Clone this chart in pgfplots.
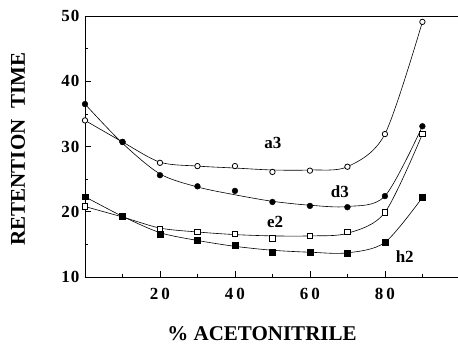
\documentclass[border=0pt]{standalone}
\usepackage{pgfplots}
\pgfplotsset{compat=1.18}
\usepackage{fontspec}
\setmainfont{Liberation Serif}
\begin{document}
\begin{tikzpicture}[x=1pt,y=1pt]
\useasboundingbox (-85,-69) rectangle (373,277);
\begin{axis}[
  at={(0,0)}, anchor=south west,
  scale only axis, width=373pt, height=261pt,
  xmin=0, xmax=99.5, ymin=10, ymax=50,
  axis y line*=left, axis x line*=box,
  axis line style={line width=0.8pt,-},
  xtick={20,40,60,80}, minor xtick={10,30,50,70,90},
  xticklabels={{2\hspace{3pt}0},{4\hspace{3pt}0},{6\hspace{3pt}0},{8\hspace{3pt}0}},
  ytick={10,20,30,40,50}, minor ytick={15,25,35,45},
  yticklabels={{1\hspace{1pt}0},{2\hspace{1pt}0},{3\hspace{1pt}0},{4\hspace{1pt}0},{5\hspace{1pt}0}},
  xtick pos=lower, ytick pos=left,
  tick align=inside,
  major tick length=6pt, minor tick length=3pt,
  tick style={black, line width=0.6pt},
  ticklabel style={font=\bfseries\fontsize{17}{17}\selectfont},
  xticklabel style={yshift=-8pt},
  yticklabel style={xshift=-2pt},
  xlabel={\% ACETONITRILE},
  ylabel={RETENTION\ \ TIME},
  label style={font=\bfseries\fontsize{21}{21}\selectfont},
  xlabel style={at={(axis description cs:0.4745,-0.216)}, anchor=center},
  ylabel style={at={(axis description cs:-0.1796,0.49)}, anchor=center, rotate=0},
  clip=false,
]
% fitted curves
\addplot[black, line width=0.6pt, smooth, tension=0.5, no marks] coordinates {
(0,34.0)(10,30.7)(20,27.6)(30,27.0)(40,26.7)(50,26.4)(60,26.4)(70,26.9)(80,31.9)(90,49.1)};
\addplot[black, line width=0.6pt, smooth, tension=0.5, no marks] coordinates {
(0,36.5)(10,30.5)(20,25.8)(30,23.8)(40,22.6)(50,21.6)(60,21.0)(70,20.8)(80,22.4)(90,33.1)};
\addplot[black, line width=0.6pt, smooth, tension=0.5, no marks] coordinates {
(0,20.8)(10,19.2)(20,17.5)(30,16.9)(40,16.5)(50,16.3)(60,16.3)(70,16.7)(80,19.9)(90,31.9)};
\addplot[black, line width=0.6pt, smooth, tension=0.5, no marks] coordinates {
(0,22.3)(10,19.3)(20,16.8)(30,15.6)(40,14.7)(50,14.1)(60,13.8)(70,13.7)(80,15.3)(90,22.2)};
% data points
\addplot[only marks, mark=*, mark options={fill=white, draw=black, scale=1.35, line width=0.8pt}] coordinates {
(0,34.0)(10,30.7)(20,27.5)(30,27.0)(40,27.0)(50,26.1)(60,26.3)(70,26.9)(80,31.9)(90,49.1)};
\addplot[only marks, mark=*, mark options={fill=black, draw=black, scale=1.45}] coordinates {
(0,36.5)(10,30.7)(20,25.6)(30,23.9)(40,23.2)(50,21.5)(60,20.9)(70,20.7)(80,22.4)(90,33.1)};
\addplot[only marks, mark=square*, mark options={fill=white, draw=black, scale=1.35, line width=0.8pt}] coordinates {
(0,20.8)(10,19.2)(20,17.4)(30,16.9)(40,16.6)(50,15.9)(60,16.3)(70,16.9)(80,19.9)(90,31.9)};
\addplot[only marks, mark=square*, mark options={fill=black, draw=black, scale=1.45}] coordinates {
(0,22.3)(10,19.3)(20,16.6)(30,15.7)(40,14.9)(50,13.8)(60,13.8)(70,13.6)(80,15.3)(90,22.2)};
\node[font=\bfseries\fontsize{17}{17}\selectfont] at (axis cs:50.1,30.5) {a3};
\node[font=\bfseries\fontsize{17}{17}\selectfont] at (axis cs:68,23.0) {d3};
\node[font=\bfseries\fontsize{17}{17}\selectfont] at (axis cs:50.7,18.4) {e2};
\node[font=\bfseries\fontsize{17}{17}\selectfont] at (axis cs:85.3,13.1) {h2};
\end{axis}
\end{tikzpicture}
\end{document}
